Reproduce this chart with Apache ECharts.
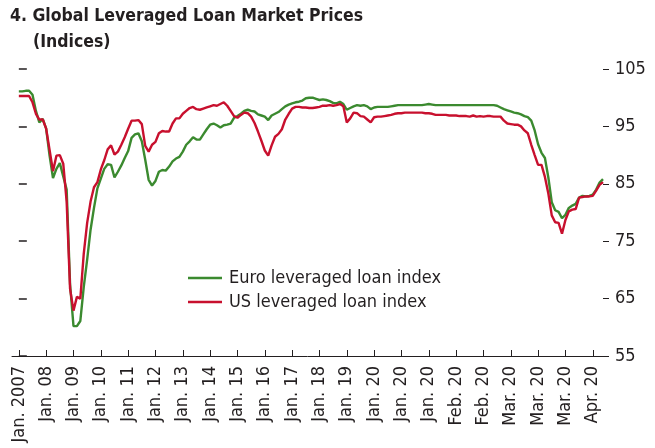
<!DOCTYPE html>
<html>
<head>
<meta charset="utf-8">
<script src="https://cdn.jsdelivr.net/npm/echarts@6/dist/echarts.min.js"></script>
<style>
  html, body { margin: 0; padding: 0; background: #fff; }
  #chart { width: 655px; height: 448px; }
</style>
</head>
<body>
<div id="chart"></div>
<script>
// tick labels along the bottom, one per tick, equally spaced
const tickLabels = ['Jan. 2007', 'Jan. 08', 'Jan. 09', 'Jan. 10', 'Jan. 11', 'Jan. 12', 'Jan. 13',
  'Jan. 14', 'Jan. 15', 'Jan. 16', 'Jan. 17', 'Jan. 18', 'Jan. 19', 'Jan. 20', 'Jan. 20', 'Jan. 20',
  'Feb. 20', 'Feb. 20', 'Mar. 20', 'Mar. 20', 'Mar. 20', 'Apr. 20'];
const yTicks = [55, 65, 75, 85, 95, 105];
const PTS_PER_TICK = 8; // readings taken 8 per tick interval

// Euro leveraged loan index
const euroIndex = [
  101.1, 101.1, 101.2, 101.2, 100.5, 97.7, 95.7, 96.3, 94.6, 89.9,
  86.0, 87.6, 88.6, 86.3, 84.0, 67.5, 60.2, 60.2, 61.1, 67.0,
  71.8, 77.0, 80.8, 84.2, 85.9, 87.6, 88.4, 88.3, 86.1, 87.1,
  88.2, 89.5, 90.7, 93.0, 93.6, 93.8, 92.4, 89.2, 85.7, 84.7,
  85.5, 87.1, 87.4, 87.3, 88.0, 88.9, 89.4, 89.7, 90.6, 91.8,
  92.4, 93.1, 92.7, 92.7, 93.6, 94.5, 95.3, 95.5, 95.2, 94.8,
  95.2, 95.3, 95.5, 96.5, 96.8, 97.2, 97.7, 97.9, 97.7, 97.6,
  97.1, 96.9, 96.7, 96.1, 96.9, 97.2, 97.5, 98.0, 98.5, 98.8,
  99.0, 99.2, 99.3, 99.5, 99.9, 100.0, 100.0, 99.8, 99.6, 99.7,
  99.6, 99.4, 99.1, 99.0, 99.3, 98.9, 97.9, 98.2, 98.5, 98.7,
  98.6, 98.7, 98.5, 98.0, 98.3, 98.4, 98.4, 98.4, 98.4, 98.5,
  98.6, 98.7, 98.7, 98.7, 98.7, 98.7, 98.7, 98.7, 98.7, 98.8,
  98.9, 98.8, 98.7, 98.7, 98.7, 98.7, 98.7, 98.7, 98.7, 98.7,
  98.7, 98.7, 98.7, 98.7, 98.7, 98.7, 98.7, 98.7, 98.7, 98.7,
  98.6, 98.3, 98.0, 97.8, 97.6, 97.4, 97.3, 97.1, 96.8, 96.6,
  96.0, 94.3, 91.9, 90.4, 89.5, 86.1, 81.8, 80.4, 80.1, 79.0,
  79.6, 80.8, 81.2, 81.5, 82.6, 82.9, 82.8, 82.9, 83.1, 84.0,
  85.2, 85.8
];

// US leveraged loan index
const usIndex = [
  100.3, 100.3, 100.3, 100.3, 99.2, 97.2, 96.2, 96.2, 94.6, 90.9,
  87.2, 89.9, 90.0, 88.5, 81.9, 66.7, 62.9, 65.3, 65.0, 72.8,
  78.2, 81.9, 84.4, 85.3, 87.5, 89.1, 91.0, 91.7, 90.1, 90.6,
  91.8, 93.1, 94.6, 96.0, 96.0, 96.1, 95.4, 91.6, 90.6, 91.8,
  92.3, 93.8, 94.2, 94.1, 94.1, 95.5, 96.4, 96.4, 97.2, 97.7,
  98.2, 98.4, 98.0, 97.9, 98.1, 98.3, 98.5, 98.7, 98.6, 98.9,
  99.2, 98.6, 97.7, 96.8, 96.5, 97.0, 97.4, 97.3, 96.7, 95.6,
  94.1, 92.5, 90.8, 89.9, 91.7, 93.2, 93.7, 94.5, 96.2, 97.2,
  98.1, 98.4, 98.4, 98.3, 98.3, 98.2, 98.2, 98.3, 98.4, 98.6,
  98.6, 98.7, 98.6, 98.7, 98.9, 98.5, 95.7, 96.4, 97.4, 97.3,
  96.8, 96.7, 96.2, 95.7, 96.6, 96.7, 96.7, 96.8, 96.9, 97.0,
  97.2, 97.3, 97.3, 97.4, 97.4, 97.4, 97.4, 97.4, 97.4, 97.3,
  97.3, 97.2, 97.0, 97.0, 97.0, 97.0, 96.9, 96.9, 96.9, 96.8,
  96.8, 96.8, 96.7, 96.9, 96.7, 96.8, 96.7, 96.8, 96.8, 96.7,
  96.7, 96.7, 96.0, 95.5, 95.4, 95.3, 95.3, 95.0, 94.3, 93.8,
  91.8, 90.0, 88.3, 88.3, 86.2, 83.3, 79.5, 78.3, 78.2, 76.3,
  78.7, 80.2, 80.5, 80.6, 82.6, 82.7, 82.8, 82.8, 82.9, 83.8,
  84.8, 85.3
];

const FONT = "'Liberation Sans Narrow', 'DejaVu Sans Condensed', 'Roboto', sans-serif";
const INK = '#231f20';
const GREEN = '#3b8a2f';
const RED = '#c8102e';

function toPoints(arr) {
  return arr.map((v, k) => [k / PTS_PER_TICK, v]);
}

const tickPos = tickLabels.map((_, i) => i);

const myChart = echarts.init(document.getElementById('chart'), null, { renderer: 'canvas' });
const option = {
  animation: false,
  title: [
    {
      text: '4. Global Leveraged Loan Market Prices',
      left: 10, top: 7, padding: 0,
      textStyle: { fontFamily: FONT, fontSize: 17.5, fontWeight: 'bold', color: INK }
    },
    {
      text: '(Indices)',
      left: 33, top: 33, padding: 0,
      textStyle: { fontFamily: FONT, fontSize: 17.5, fontWeight: 'bold', color: INK }
    }
  ],
  legend: {
    orient: 'vertical',
    left: 188, top: 268,
    padding: 0,
    icon: 'rect',
    itemWidth: 34, itemHeight: 2.5,
    itemGap: 4,
    textStyle: { fontFamily: FONT, fontSize: 18, color: INK, lineHeight: 20, padding: [0, 0, 0, 2] },
    data: ['Euro leveraged loan index', 'US leveraged loan index']
  },
  grid: { left: 12, right: 52, top: 69, bottom: 92, containLabel: false },
  xAxis: {
    type: 'value',
    min: -0.25,
    max: 21.375,
    axisLine: { show: true, lineStyle: { color: INK, width: 1 } },
    axisTick: { show: true, inside: true, length: 6, customValues: tickPos, lineStyle: { color: INK } },
    axisLabel: {
      customValues: tickPos,
      rotate: 90,
      margin: 10,
      fontFamily: FONT, fontSize: 18, color: INK,
      formatter: v => tickLabels[Math.round(v)]
    },
    splitLine: { show: false }
  },
  yAxis: [
    {
      type: 'value',
      position: 'left',
      min: 55, max: 105, interval: 10,
      axisLine: { show: false },
      axisTick: { show: true, inside: true, length: 8, lineStyle: { color: INK, width: 1.5 } },
      axisLabel: { show: false },
      splitLine: { show: false }
    },
    {
      type: 'value',
      position: 'right',
      min: 55, max: 105, interval: 10,
      axisLine: { show: false },
      axisTick: { show: true, length: 6, lineStyle: { color: INK } },
      axisLabel: {
        margin: 12, fontFamily: FONT, fontSize: 18, color: INK,
        customValues: yTicks
      },
      splitLine: { show: false }
    }
  ],
  series: [
    {
      name: 'Euro leveraged loan index',
      type: 'line',
      data: toPoints(euroIndex),
      symbol: 'none',
      lineStyle: { color: GREEN, width: 2.4 },
      itemStyle: { color: GREEN }
    },
    {
      name: 'US leveraged loan index',
      type: 'line',
      data: toPoints(usIndex),
      symbol: 'none',
      lineStyle: { color: RED, width: 2.4 },
      itemStyle: { color: RED }
    }
  ]
};
myChart.setOption(option);
</script>
</body>
</html>
